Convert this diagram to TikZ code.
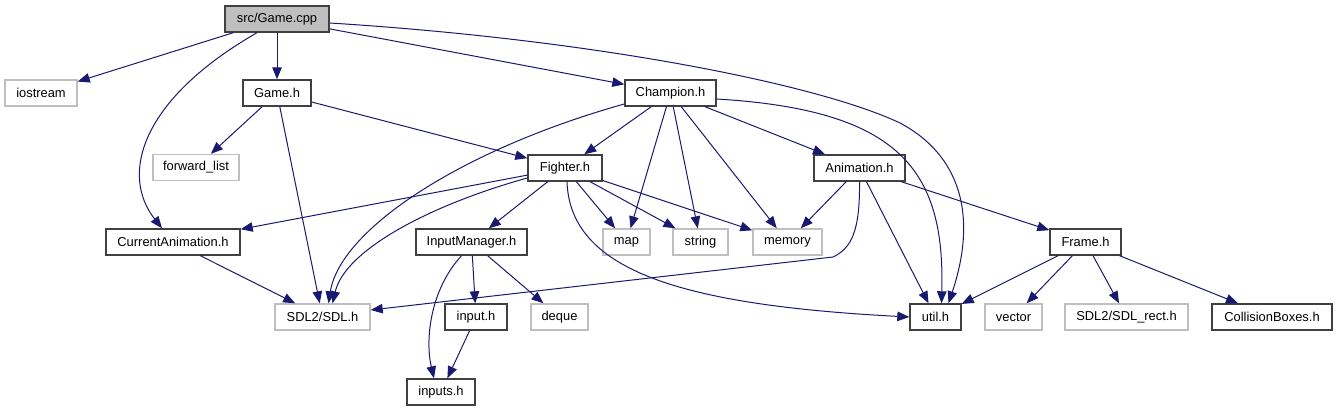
\documentclass[tikz,border=0pt]{standalone}
\usepackage{fontspec}
\setmainfont{Liberation Sans}
\usetikzlibrary{arrows.meta}
\definecolor{edgeblue}{HTML}{191970}
\tikzset{
  file/.style={draw=black!75, line width=1.4pt, minimum height=26pt, inner sep=0pt, font=\fontsize{12.9}{15}\selectfont},
  sysfile/.style={file, draw=black!25},
  inc/.style={edgeblue, line width=1pt, -{Triangle[length=12pt,width=9.5pt]}},
}
\begin{document}
\begin{tikzpicture}[x=1pt, y=-1pt]
    \useasboundingbox (0,0) rectangle (1337,411);

    % Root file
    \node[file, fill=black!25, minimum width=104pt] (root) at (277,19) {src/Game.cpp};

    % First level
    \node[sysfile, minimum width=72pt] (iostream) at (41,93) {iostream};
    \node[file, minimum width=68pt] (gameh) at (277,93) {Game.h};
    \node[file, minimum width=91pt] (champion) at (670.5,93) {Champion.h};

    % Second level
    \node[sysfile, minimum width=86pt] (fwdlist) at (196,167.5) {forward\_list};
    \node[file, minimum width=74pt] (fighter) at (565,168) {Fighter.h};
    \node[file, minimum width=91pt] (animation) at (859.5,168) {Animation.h};

    % Third level
    \node[file, minimum width=134pt] (curanim) at (173,242) {CurrentAnimation.h};
    \node[file, minimum width=111pt] (inputmgr) at (471.5,242) {InputManager.h};
    \node[sysfile, minimum width=47pt] (map) at (626.5,242) {map};
    \node[sysfile, minimum width=55pt] (string) at (700.5,242) {string};
    \node[sysfile, minimum width=69pt] (memory) at (787.5,242) {memory};
    \node[file, minimum width=71pt] (frame) at (1085.5,242) {Frame.h};

    % Fourth level
    \node[sysfile, minimum width=95pt] (sdl) at (322.5,317) {SDL2/SDL.h};
    \node[file, minimum width=62pt] (inputh) at (476,317) {input.h};
    \node[sysfile, minimum width=57pt] (deque) at (559.5,317) {deque};
    \node[file, minimum width=51pt] (util) at (935.5,317) {util.h};
    \node[sysfile, minimum width=57pt] (vector) at (1013.5,317) {vector};
    \node[sysfile, minimum width=123pt] (sdlrect) at (1126.5,317) {SDL2/SDL\_rect.h};
    \node[file, minimum width=120pt] (collision) at (1272,317) {CollisionBoxes.h};

    % Bottom
    \node[file, minimum width=68pt] (inputs) at (441,392) {inputs.h};

    % Includes of src/Game.cpp
    \draw[inc] (root) -- (iostream);
    \draw[inc] (root) -- (gameh);
    \draw[inc] (root) -- (champion);
    \draw[inc] ([xshift=-20pt]root.south) .. controls (140,100) and (120,175) .. ([xshift=-11pt]curanim.north);
    \draw[inc] ([yshift=-4pt]root.east) .. controls (600,40) and (820,85) .. (900,123)
        .. controls (960,155) and (978,215) .. ([xshift=13pt]util.north);

    % Includes of Game.h
    \draw[inc] (gameh) -- (fwdlist);
    \draw[inc] (gameh) -- (sdl);
    \draw[inc] (gameh) -- (fighter);

    % Includes of Champion.h
    \draw[inc] (champion) -- (fighter);
    \draw[inc] (champion) -- (map);
    \draw[inc] (champion) -- (string);
    \draw[inc] (champion) -- (memory);
    \draw[inc] (champion) -- (animation);
    \draw[inc] ([yshift=-11pt]champion.west) .. controls (460,150) and (340,230) .. ([xshift=6pt]sdl.north);
    \draw[inc] ([yshift=-6pt]champion.east) .. controls (900,110) and (945,170) .. ([xshift=6pt]util.north);

    % Includes of Fighter.h
    \draw[inc] (fighter) -- (curanim);
    \draw[inc] (fighter) -- (inputmgr);
    \draw[inc] (fighter) -- (map);
    \draw[inc] (fighter) -- (string);
    \draw[inc] (fighter) -- (memory);
    \draw[inc] ([yshift=-10pt]fighter.west) .. controls (430,205) and (345,250) .. ([xshift=10pt]sdl.north);
    \draw[inc] ([xshift=2pt]fighter.south) .. controls (570,270) and (680,305) .. (util.west);

    % Includes of Animation.h
    \draw[inc] (animation) -- (memory);
    \draw[inc] (animation) -- (util);
    \draw[inc] (animation) -- (frame);
    \draw[inc] (animation.south) .. controls (860,230) and (852,248) .. (833,257) -- ([yshift=7pt]sdl.east);

    % Lower includes
    \draw[inc] (curanim) -- (sdl);
    \draw[inc] (inputmgr) -- (inputh);
    \draw[inc] (inputmgr) -- (deque);
    \draw[inc] ([xshift=-10pt]inputmgr.south) .. controls (430,290) and (425,340) .. ([xshift=-7pt]inputs.north);
    \draw[inc] (inputh) -- (inputs);
    \draw[inc] (frame) -- (util);
    \draw[inc] (frame) -- (vector);
    \draw[inc] (frame) -- (sdlrect);
    \draw[inc] (frame) -- (collision);
\end{tikzpicture}
\end{document}
